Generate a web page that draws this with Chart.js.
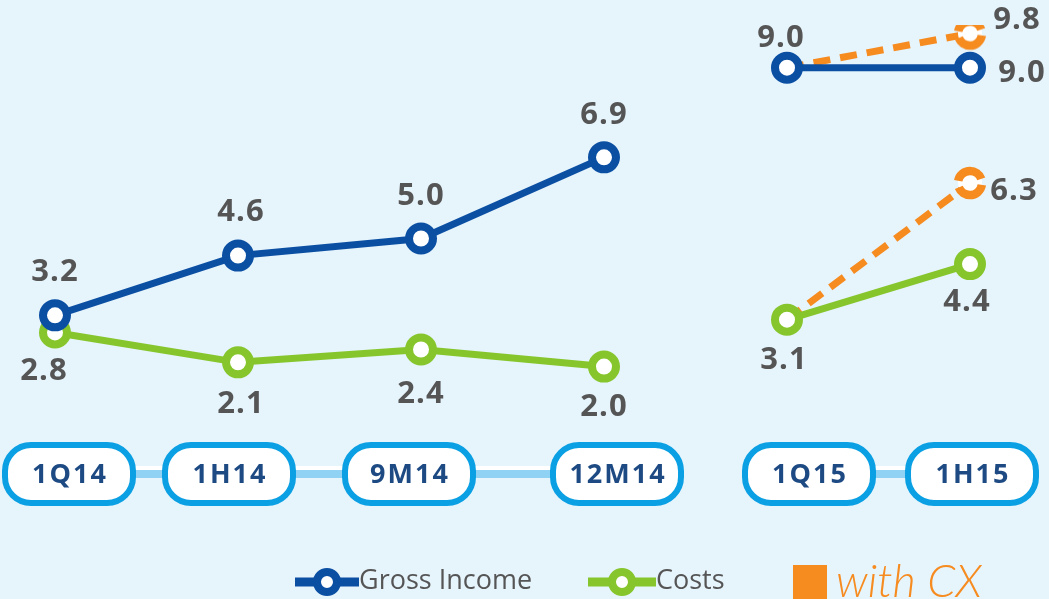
<!DOCTYPE html>
<html>
<head>
<meta charset="utf-8">
<script src="https://cdn.jsdelivr.net/npm/chart.js@4.4.1/dist/chart.umd.min.js"></script>
<style>
    html, body { margin: 0; padding: 0; background: #e6f4fc; }
    #wrap { width: 1049px; height: 599px; }
</style>
</head>
<body>
<div id="wrap"><canvas id="incomeChart" width="1049" height="599"></canvas></div>
<script>
// data
const periods = ['1Q14', '1H14', '9M14', '12M14', '1Q15', '1H15'];
const grossIncome = [3.2, 4.6, 5.0, 6.9, 9.0, 9.0];
const costs = [2.8, 2.1, 2.4, 2.0, 3.1, 4.4];
const grossWithCx = [null, null, null, null, 9.0, 9.8];
const costsWithCx = [null, null, null, null, 3.1, 6.3];
const yRange = [0, 10];
const lastOf2014 = 3; // line breaks after this index

// label placement (dx, dy from the point)
const grossLabelPos = [[0, -43], [3, -43], [0, -42], [0, -42], [-6, -30], [52, 5]];
const costsLabelPos = [[-11, 39], [3, 42], [0, 45], [0, 41], [-3, 41], [-3, 38]];
const grossCxLabelPos = [null, null, null, null, null, [47, -13]];
const costsCxLabelPos = [null, null, null, null, null, [44, 8]];
// the period boxes are not exactly under the points in the original
const pillShift = [14, -9, -12, 13, 22, 2];

const BLUE = '#0b4fa3';
const GREEN = '#86c62c';
const ORANGE = '#f68b1f';
const LABEL_GREY = '#555555';

function dashedRing(color) {
    const c = document.createElement('canvas');
    c.width = 36;
    c.height = 36;
    const g = c.getContext('2d');
    g.beginPath();
    g.arc(18, 18, 12, 0, Math.PI * 2);
    g.fillStyle = '#fff';
    g.fill();
    g.lineWidth = 8.5;
    g.strokeStyle = color;
    g.setLineDash([31, 6.7]);
    g.lineDashOffset = -2;
    g.stroke();
    return c;
}

function lineSet(label, data, color, labelPos) {
    return {
        label: label,
        data: data,
        borderColor: color,
        borderWidth: 7,
        pointRadius: 12,
        pointBorderWidth: 8,
        pointBackgroundColor: '#fff',
        pointBorderColor: color,
        segment: {
            borderColor: ctx => ctx.p0DataIndex === lastOf2014 ? 'transparent' : color
        },
        labelPos: labelPos,
        order: 1
    };
}

function cxSet(label, data, labelPos) {
    return {
        label: label,
        data: data,
        borderColor: ORANGE,
        borderWidth: 7,
        borderDash: [17, 10],
        pointRadius: data.map((v, i) => i === data.length - 1 ? 13 : 0),
        pointStyle: dashedRing(ORANGE),
        labelPos: labelPos,
        order: 2
    };
}

// pill shaped period boxes under the chart
const periodPills = {
    id: 'periodPills',
    afterDraw(chart) {
        const ctx = chart.ctx;
        const x = chart.scales.x;
        const y = 474;
        const w = 128, h = 58;
        const xs = periods.map((p, i) => x.getPixelForValue(i) + pillShift[i]);
        const groups = [[0, lastOf2014], [lastOf2014 + 1, periods.length - 1]];
        ctx.save();
        groups.forEach(gr => {
            ctx.strokeStyle = '#8fd2f3';
            ctx.lineWidth = 8;
            ctx.beginPath();
            ctx.moveTo(xs[gr[0]], y);
            ctx.lineTo(xs[gr[1]], y);
            ctx.stroke();
            ctx.strokeStyle = '#ffffff';
            ctx.lineWidth = 4;
            ctx.beginPath();
            ctx.moveTo(xs[gr[0]], y - 6);
            ctx.lineTo(xs[gr[1]], y - 6);
            ctx.stroke();
        });
        xs.forEach((px, i) => {
            ctx.beginPath();
            ctx.roundRect(px - w / 2, y - h / 2, w, h, 26);
            ctx.fillStyle = '#ffffff';
            ctx.fill();
            ctx.lineWidth = 6;
            ctx.strokeStyle = '#0aa0e3';
            ctx.stroke();
            ctx.fillStyle = '#1e4a84';
            ctx.font = 'bold 27px "Open Sans"';
            ctx.letterSpacing = '2px';
            ctx.textAlign = 'center';
            ctx.textBaseline = 'middle';
            ctx.fillText(periods[i], px + 1, y + 1);
        });
        ctx.restore();
    }
};

// value labels next to the points
const valueLabels = {
    id: 'valueLabels',
    afterDatasetsDraw(chart) {
        const ctx = chart.ctx;
        ctx.save();
        ctx.font = 'bold 31px "Open Sans"';
        ctx.letterSpacing = '1px';
        ctx.fillStyle = LABEL_GREY;
        ctx.textAlign = 'center';
        ctx.textBaseline = 'middle';
        chart.data.datasets.forEach((ds, di) => {
            const meta = chart.getDatasetMeta(di);
            meta.data.forEach((pt, i) => {
                const v = ds.data[i];
                const pos = ds.labelPos[i];
                if (v === null || !pos) return;
                ctx.fillText(v.toFixed(1), pt.x + pos[0], pt.y + pos[1]);
            });
        });
        ctx.restore();
    }
};

// legend drawn at the bottom
const bottomLegend = {
    id: 'bottomLegend',
    afterDraw(chart) {
        const ctx = chart.ctx;
        const y = 582;
        ctx.save();
        function lineMarker(x1, x2, color) {
            ctx.strokeStyle = color;
            ctx.lineWidth = 9;
            ctx.beginPath();
            ctx.moveTo(x1, y);
            ctx.lineTo(x2, y);
            ctx.stroke();
            ctx.beginPath();
            ctx.arc((x1 + x2) / 2, y, 10, 0, Math.PI * 2);
            ctx.fillStyle = '#fff';
            ctx.fill();
            ctx.lineWidth = 8;
            ctx.stroke();
        }
        lineMarker(295, 359, BLUE);
        lineMarker(588, 656, GREEN);
        ctx.font = '27px "Open Sans"';
        ctx.fillStyle = LABEL_GREY;
        ctx.textAlign = 'left';
        ctx.textBaseline = 'middle';
        ctx.fillText(chart.data.datasets[0].label, 359, y - 1);
        ctx.fillText(chart.data.datasets[1].label, 656, y - 1);
        ctx.fillStyle = ORANGE;
        ctx.fillRect(793, 565, 34, 40);
        ctx.font = 'italic 300 45px Lato';
        ctx.textBaseline = 'alphabetic';
        ctx.fillText('with CX', 836, 597);
        ctx.restore();
    }
};

const chartConfig = {
    type: 'line',
    data: {
        labels: periods,
        datasets: [
            lineSet('Gross Income', grossIncome, BLUE, grossLabelPos),
            lineSet('Costs', costs, GREEN, costsLabelPos),
            cxSet('Gross Income with CX', grossWithCx, grossCxLabelPos),
            cxSet('Costs with CX', costsWithCx, costsCxLabelPos)
        ]
    },
    options: {
        responsive: false,
        animation: false,
        layout: {
            padding: { left: 55, right: 79, top: 25, bottom: 147 }
        },
        plugins: {
            legend: { display: false },
            tooltip: { enabled: false }
        },
        scales: {
            x: { display: false, offset: false },
            y: { display: false, min: yRange[0], max: yRange[1] }
        }
    },
    plugins: [periodPills, valueLabels, bottomLegend]
};

const incomeChart = new Chart(document.getElementById('incomeChart'), chartConfig);
</script>
</body>
</html>
